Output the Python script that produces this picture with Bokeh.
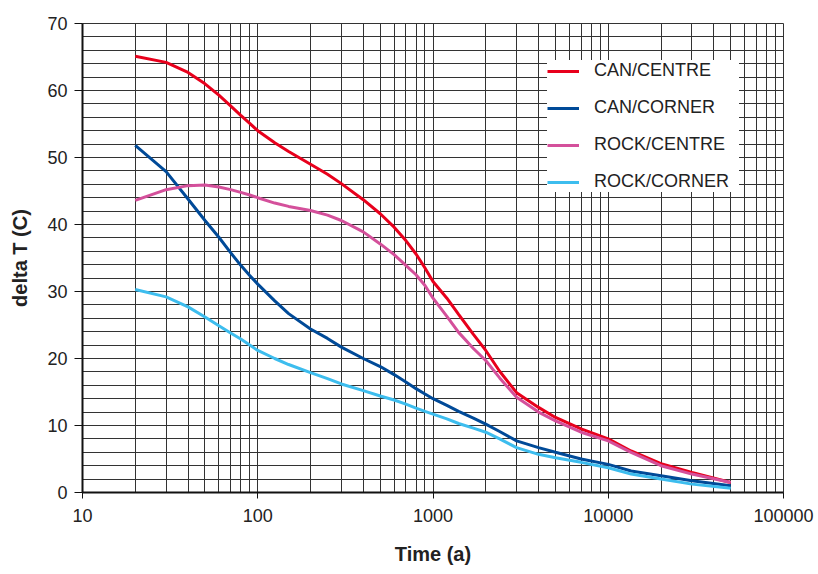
from bokeh.plotting import figure
from bokeh.models import (Legend, LegendItem, LogTicker, SingleIntervalTicker,
                          NumeralTickFormatter, Range1d)
from bokeh.embed import file_html
from bokeh.resources import INLINE

# ---- data ----
times = [20, 30, 40, 50, 60, 70, 80, 90, 100, 125, 150, 200, 250, 300, 400, 500,
         600, 700, 800, 900, 1000, 1200, 1400, 1700, 2000, 2400, 3000, 4000, 5000,
         7000, 10000, 13500, 20000, 30000, 50000]

can_centre = [65.1, 64.2, 62.7, 61.0, 59.3, 57.7, 56.3, 55.1, 54.0, 52.2, 50.9, 49.0,
              47.5, 46.1, 43.7, 41.6, 39.6, 37.6, 35.6, 33.5, 31.5, 29.0, 26.6, 23.6,
              21.2, 18.1, 14.9, 12.7, 11.2, 9.5, 8.0, 6.2, 4.3, 3.0, 1.5]

can_corner = [51.8, 47.9, 43.8, 40.6, 38.1, 35.8, 33.9, 32.4, 31.1, 28.6, 26.7, 24.4,
              23.0, 21.7, 20.0, 18.8, 17.6, 16.5, 15.5, 14.7, 14.0, 13.0, 12.1, 11.1,
              10.2, 9.1, 7.7, 6.7, 6.0, 5.0, 4.2, 3.2, 2.5, 1.75, 1.0]

rock_centre = [43.6, 45.2, 45.8, 45.9, 45.6, 45.2, 44.8, 44.4, 44.0, 43.2, 42.7, 42.1,
               41.4, 40.6, 38.9, 37.1, 35.5, 33.9, 32.5, 30.9, 29.0, 26.3, 23.9, 21.5,
               19.7, 17.1, 14.2, 12.0, 10.7, 9.0, 7.7, 6.0, 4.0, 2.75, 1.5]

rock_corner = [30.3, 29.2, 27.7, 26.2, 24.9, 23.8, 22.9, 22.0, 21.2, 20.0, 19.1, 17.9,
               17.0, 16.2, 15.2, 14.4, 13.8, 13.2, 12.6, 12.1, 11.7, 11.0, 10.3, 9.6,
               9.0, 8.0, 6.7, 5.7, 5.2, 4.5, 3.7, 2.75, 2.0, 1.25, 0.65]

series_names = ["CAN/CENTRE", "CAN/CORNER", "ROCK/CENTRE", "ROCK/CORNER"]
series_values = [can_centre, can_corner, rock_centre, rock_corner]
series_colors = ["#E8001C", "#004A98", "#D4509B", "#3DBDEE"]

x_label = "Time (a)"
y_label = "delta T (C)"

FONT = "Liberation Sans"
GRID = "#333333"
TEXT = "#222222"

p = figure(width=818, height=574, x_axis_type="log",
           x_range=Range1d(10, 100000), y_range=Range1d(0, 70),
           output_backend="svg", toolbar_location=None,
           min_border_left=82, min_border_right=35,
           min_border_top=23, min_border_bottom=82)

p.background_fill_color = "white"
p.border_fill_color = "white"
p.outline_line_color = GRID
p.outline_line_width = 1

# axes / ticks
p.xaxis.ticker = LogTicker(num_minor_ticks=10)
p.xaxis.formatter = NumeralTickFormatter(format="0")
p.yaxis.ticker = SingleIntervalTicker(interval=10, num_minor_ticks=5)

for ax in (p.xaxis[0], p.yaxis[0]):
    ax.axis_line_color = "#111111"
    ax.axis_line_width = 2
    ax.major_tick_line_color = "#111111"
    ax.major_tick_in = 0
    ax.minor_tick_in = 0
    ax.minor_tick_out = 0
    ax.major_label_text_font = FONT
    ax.major_label_text_font_size = "18px"
    ax.major_label_text_color = TEXT
    ax.axis_label_text_font = FONT
    ax.axis_label_text_font_style = "bold"
    ax.axis_label_text_font_size = "20px"
    ax.axis_label_text_color = TEXT

p.xaxis.major_tick_out = 6
p.xaxis.major_label_standoff = 10
p.xaxis.axis_label = x_label
p.xaxis.axis_label_standoff = 18

p.yaxis.major_tick_out = 8
p.yaxis.major_label_standoff = 7
p.yaxis.axis_label = y_label
p.yaxis.axis_label_standoff = 13

# grids
p.xgrid.grid_line_color = GRID
p.xgrid.minor_grid_line_color = GRID
p.ygrid.grid_line_color = GRID
p.ygrid.minor_grid_line_color = GRID
for g in (p.xgrid[0], p.ygrid[0]):
    g.grid_line_width = 1
    g.minor_grid_line_width = 1

# lines
items = []
for name, vals, col in zip(series_names, series_values, series_colors):
    r = p.line(times, vals, line_color=col, line_width=3)
    items.append(LegendItem(label=name, renderers=[r]))

legend = Legend(items=items, location=(465, 300), orientation="vertical",
                background_fill_color="white", background_fill_alpha=1.0,
                border_line_color=None, padding=10, margin=0,
                glyph_width=32, glyph_height=20, label_height=20,
                label_width=145, label_standoff=15, spacing=16,
                label_text_font=FONT, label_text_font_size="18px",
                label_text_color=TEXT)
p.add_layout(legend, "center")

open("out.html", "w").write(file_html(p, INLINE))
